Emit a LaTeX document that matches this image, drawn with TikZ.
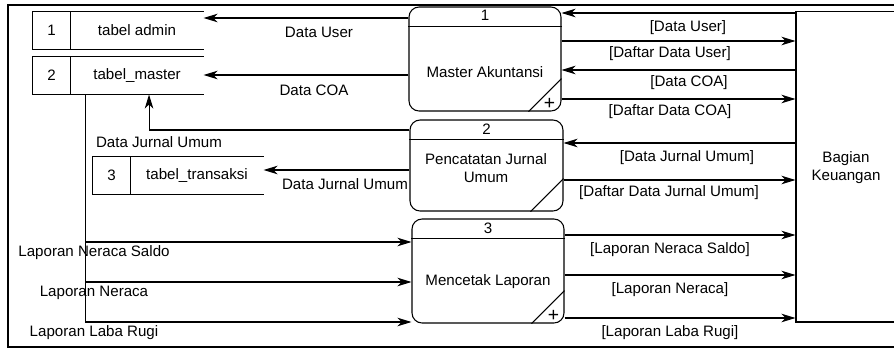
\documentclass[tikz,border=0pt]{standalone}
\usepackage{fontspec}
\setmainfont{Liberation Sans}
\usetikzlibrary{arrows.meta, positioning}

\begin{document}
\begin{tikzpicture}[
	x=0.02cm, y=-0.02cm,
	>={Stealth[length=2.8mm,width=1.7mm,inset=0.8mm]},
	line width=0.6pt,
	font=\fontsize{8.6}{10.2}\selectfont
]

\tikzset{
	proc/.style={draw, rounded corners=0.2cm, minimum width=3.04cm, minimum height=2.08cm, inner sep=0pt},
	storeid/.style={minimum width=0.74cm, minimum height=0.74cm, inner sep=0pt},
	storename/.style={minimum width=2.64cm, minimum height=0.74cm, inner sep=0pt},
	lbl/.style={inner sep=1pt},
	flow/.style={->}
}

\path[use as bounding box, clip] (0,0) rectangle (894,349);
\draw[line width=1.2pt] (900,5) -- (8,5) -- (8,347) -- (900,347);

% data stores
\node[storeid] (s1id) at (51.5,30.5) {1};
\node[storename, right=0pt of s1id] (s1) {tabel admin};
\node[storeid] (s2id) at (51.5,75.5) {2};
\node[storename, right=0pt of s2id] (s2) {tabel\_master};
\node[storeid] (s3id) at (111.5,175.5) {3};
\node[storename, right=0pt of s3id] (s3) {tabel\_transaksi};
\foreach \s in {s1,s2,s3}
	\draw (\s.north east) -- (\s id.north west) -- (\s id.south west) -- (\s.south east)
		(\s id.north east) -- (\s id.south east);

% processes
\node[proc] (p1) at (485,59) {};
\node[proc, minimum width=3.06cm, minimum height=1.82cm] (p2) at (486.5,165.5) {};
\node[proc] (p3) at (488,271) {};
\foreach \p/\n in {p1/1,p2/2,p3/3}{
	\draw ([yshift=-0.4cm]\p.north west) -- ([yshift=-0.4cm]\p.north east);
	\draw ([xshift=-0.66cm]\p.south east) -- ([yshift=0.66cm]\p.south east);
	\node[lbl, below=1pt of \p.north] (\p id) {\n};
}
\node[lbl] (p1txt) at (485,72) {Master Akuntansi};
\node[lbl, align=center] (p2txt) at (486,168) {Pencatatan Jurnal\\Umum};
\node[lbl] (p3txt) at (488,282) {Mencetak Laporan};
\node[inner sep=0pt, font=\fontsize{11}{11}\selectfont] (p1plus) at ([xshift=-0.24cm,yshift=0.15cm]p1.south east) {+};
\node[inner sep=0pt, font=\fontsize{11}{11}\selectfont] (p3plus) at ([xshift=-0.22cm,yshift=0.15cm]p3.south east) {+};

% external entity
\node[draw, minimum width=2.8cm, minimum height=6.22cm] (ext) at (866,166.5) {};
\node[lbl, align=center] (extlbl) at (846,168) {Bagian\\Keuangan};

% flows
\draw[flow] (ext.west |- 0,13) -- (p1.east |- 0,13);
\draw[flow] (p1.east |- 0,41) -- (ext.west |- 0,41);
\draw[flow] (ext.west |- 0,70) -- (p1.east |- 0,70);
\draw[flow] (p1.east |- 0,99) -- (ext.west |- 0,99);
\draw[flow] (p1.west |- 0,18) -- (s1.east |- 0,18);
\draw[flow] (p1.west |- 0,75) -- (s2.east |- 0,75);
\draw[flow] (p2.west |- 0,130) -| ([xshift=0.24cm]s2.south);
\draw[flow] (p2.west |- 0,170) -- (s3.east |- 0,170);
\draw[flow] (ext.west |- 0,143) -- (p2.east |- 0,143);
\draw[flow] (p2.east |- 0,180) -- (ext.west |- 0,180);
\draw[flow] (p3.east |- 0,235) -- (ext.west |- 0,235);
\draw[flow] (p3.east |- 0,275) -- (ext.west |- 0,275);
\draw[flow] (p3.east |- 0,318) -- (ext.west |- 0,318);

\coordinate (trunk) at ([xshift=0.3cm]s2.south west);
\draw[flow] (trunk) |- (p3.west |- 0,322);
\draw[flow] (trunk |- 0,242) -- (p3.west |- 0,242);
\draw[flow] (trunk |- 0,282) -- (p3.west |- 0,282);

% flow labels
\node[lbl] (l1) at (319,32) {Data User};
\node[lbl] (l2) at (314,90) {Data COA};
\node[lbl] (l3) at (159,142) {Data Jurnal Umum};
\node[lbl] (l4) at (345,184) {Data Jurnal Umum};
\node[lbl] (r1) at (688,28) {[Data User]};
\node[lbl] (r2) at (670,54) {[Daftar Data User]};
\node[lbl] (r3) at (689,83) {[Data COA]};
\node[lbl] (r4) at (670,112) {[Daftar Data COA]};
\node[lbl] (r5) at (687,158) {[Data Jurnal Umum]};
\node[lbl] (r6) at (669,193) {[Daftar Data Jurnal Umum]};
\node[lbl] (r7) at (670,250) {[Laporan Neraca Saldo]};
\node[lbl] (r8) at (670,290) {[Laporan Neraca]};
\node[lbl] (r9) at (670,333) {[Laporan Laba Rugi]};
\node[lbl] (t1) at (94,253) {Laporan Neraca Saldo};
\node[lbl] (t2) at (94,293) {Laporan Neraca};
\node[lbl] (t3) at (94,333) {Laporan Laba Rugi};
\end{tikzpicture}
\end{document}
